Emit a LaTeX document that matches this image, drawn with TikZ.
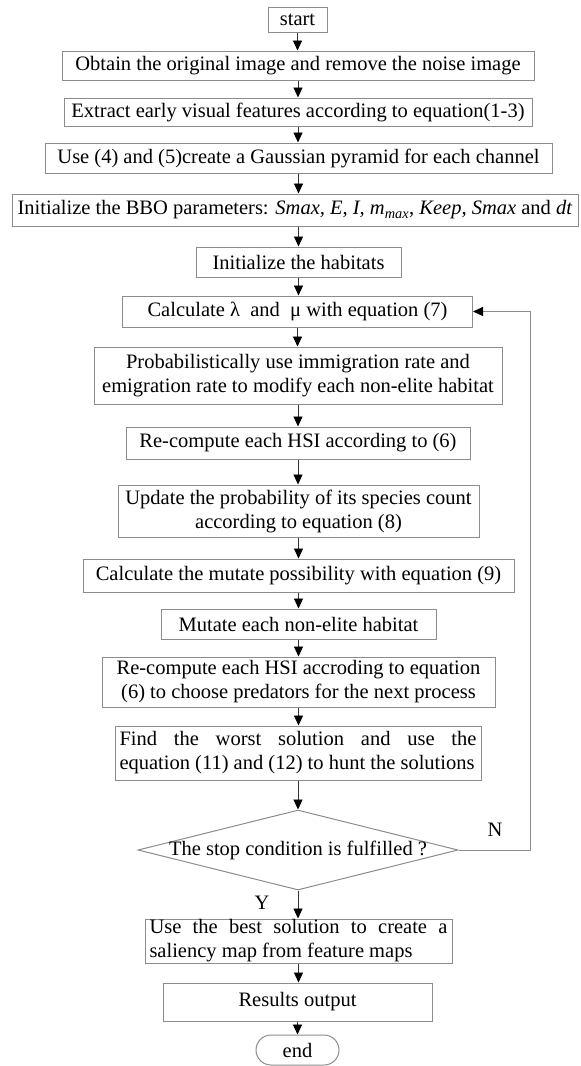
\documentclass[tikz,border=0pt]{standalone}
\usepackage{fontspec}
\setmainfont{Liberation Serif}
\usetikzlibrary{arrows.meta,shapes.geometric}
\begin{document}
\begin{tikzpicture}[x=1pt,y=-1pt,
  box/.style={draw=black!45, line width=1pt, inner sep=0pt, inner xsep=4pt, font=\fontsize{20.5}{24}\selectfont, text=black},
  conn/.style={draw=black!80, line width=0.9pt, -{Triangle[width=9pt,length=10pt,color=black]}},
  loopline/.style={conn, draw=black!45},
  lbl/.style={font=\fontsize{20.5}{24}\selectfont, inner sep=0pt}
]
\useasboundingbox (0,0) rectangle (581,1066);
\node[box, minimum width=59pt, minimum height=25pt] (start) at (297.5,19.5) {start};
\node[box, minimum width=472pt, minimum height=29pt] (b1) at (298,65.5) {Obtain the original image and remove the noise image};
\node[box, minimum width=468pt, minimum height=28pt] (b2) at (298,112) {Extract early visual features according to equation(1-3)};
\node[box, minimum width=507pt, minimum height=30pt] (b3) at (298.5,158) {Use (4) and (5)create a Gaussian pyramid for each channel};
\node[box, minimum width=566pt, minimum height=32pt] (b4) at (295,210) {Initialize the BBO parameters: \textit{Smax, E}, \textit{I, m\textsubscript{max}}, \textit{Keep}, \textit{Smax} and \textit{dt}};
\node[box, minimum width=205pt, minimum height=30pt] (b5) at (298.5,262) {Initialize the habitats};
\node[box, minimum width=350pt, minimum height=31pt] (b6) at (297.5,311.5) {Calculate λ\ \ and\ \ μ with equation (7)};
\node[box, align=center, minimum width=408pt, minimum height=57pt] (b7) at (298,375.5) {Probabilistically use immigration rate and\\emigration rate to modify each non-elite habitat};
\node[box, minimum width=344pt, minimum height=32pt] (b8) at (298,443) {Re-compute each HSI according to (6)};
\node[box, align=center, minimum width=361pt, minimum height=52pt] (b9) at (298.5,511) {Update the probability of its species count\\according to equation (8)};
\node[box, minimum width=431pt, minimum height=33pt] (b10) at (298.5,575.5) {Calculate the mutate possibility with equation (9)};
\node[box, minimum width=275pt, minimum height=30pt] (b11) at (298.5,624) {Mutate each non-elite habitat};
\node[box, align=center, minimum width=393pt, minimum height=50pt] (b12) at (298.5,682) {Re-compute each HSI accroding to equation\\(6) to choose predators for the next process};
\node[box, align=left, minimum width=366pt, minimum height=54pt] (b13) at (298,753) {\makebox[357pt][s]{Find the worst solution and use the}\\equation (11) and (12) to hunt the solutions};
\node[draw=black!45, line width=1pt, diamond, inner sep=0pt, minimum width=320pt, minimum height=80pt,
      label={[lbl]center:The stop condition is fulfilled ?}] (dia) at (298,850) {};
\node[box, align=left, minimum width=307pt, minimum height=44pt] (b14) at (298.5,941) {\makebox[298pt][s]{Use the best solution to create a}\\saliency map from feature maps};
\node[box, minimum width=269pt, minimum height=38pt] (b15) at (297.5,1002) {Results output};
\node[box, rounded corners=15pt, minimum width=83pt, minimum height=30pt] (end) at (297.5,1050) {end};
\node[lbl] (ny) at (495,830) {N};
\node[lbl] (yy) at (262,903) {Y};

\draw[conn] (start.south) -- (start.south |- b1.north);
\draw[conn] (b1.south) -- (b1.south |- b2.north);
\draw[conn] (b2.south) -- (b2.south |- b3.north);
\draw[conn] (b3.south) -- (b3.south |- b4.north);
\draw[conn] (b3.south |- b4.south) -- (b3.south |- b5.north);
\draw[conn] (b5.south) -- (b5.south |- b6.north);
\draw[conn] (b6.south) -- (b6.south |- b7.north);
\draw[conn] (b7.south) -- (b7.south |- b8.north);
\draw[conn] (b8.south) -- (b8.south |- b9.north);
\draw[conn] (b9.south) -- (b9.south |- b10.north);
\draw[conn] (b10.south) -- (b10.south |- b11.north);
\draw[conn] (b11.south) -- (b11.south |- b12.north);
\draw[conn] (b12.south) -- (b12.south |- b13.north);
\draw[conn] (b13.south) -- (dia.north);
\draw[conn] (dia.south) -- (dia.south |- b14.north);
\draw[conn] (b14.south) -- (b14.south |- b15.north);
\draw[conn] (b15.south) -- (b15.south |- end.north);
\draw[loopline] (dia.east) -- ++(72,0) |- (b6.east);
\end{tikzpicture}
\end{document}
